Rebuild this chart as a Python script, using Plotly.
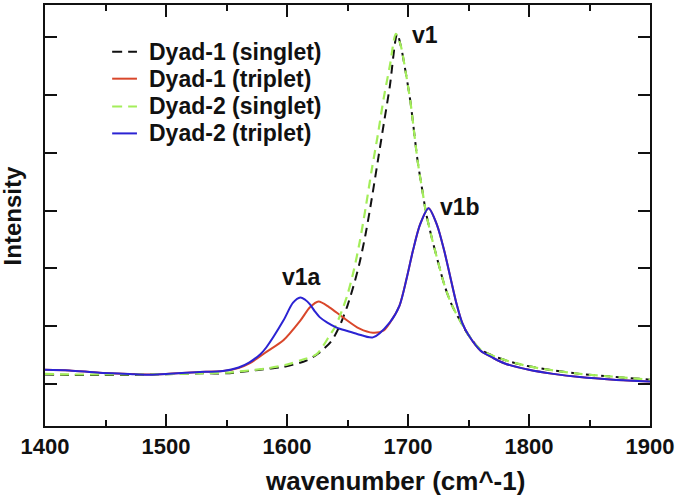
import plotly.graph_objects as go

# ---- data ----
wn_d1s = [1400,1420,1445,1470,1490,1510,1530,1550,1569,1585,1597,1616,1627,1636,1640,1645,1650,1655,1660,1665,1670,1675,1680,1685,1691,1694,1698,1702,1708,1712,1715,1720,1725,1730,1736,1743,1750,1760,1780,1800,1820,1842,1870,1900]
int_d1s = [0.17,0.16,0.16,0.16,0.17,0.18,0.19,0.19,0.23,0.27,0.30,0.41,0.55,0.73,0.86,1.08,1.36,1.70,2.1,2.6,3.2,3.85,4.5,5.15,6.05,5.85,5.4,4.88,3.85,3.33,2.95,2.5,2.1,1.72,1.38,1.1,0.85,0.6,0.42,0.31,0.24,0.18,0.13,0.08]

wn_d1t = [1400,1420,1445,1470,1484,1500,1525,1547,1560,1569,1583,1597,1611,1619,1626,1635,1646,1660,1671,1680,1688,1693,1699,1704,1710,1717,1724,1730,1735,1740,1745,1750,1760,1770,1780,1800,1820,1842,1870,1900]
int_d1t = [0.25,0.24,0.20,0.18,0.17,0.18,0.21,0.23,0.28,0.36,0.56,0.76,1.10,1.33,1.43,1.33,1.16,0.96,0.89,0.93,1.16,1.36,1.84,2.30,2.76,3.04,2.75,2.3,1.85,1.4,1.05,0.85,0.58,0.46,0.36,0.25,0.18,0.125,0.08,0.05]

wn_d2s = [1400,1420,1445,1470,1490,1510,1530,1550,1569,1585,1600,1612,1624.5,1636,1640,1645,1650,1655,1660,1665,1670,1675,1680,1685,1690,1694,1698,1702,1708,1712,1715,1720,1725,1730,1736,1743,1750,1760,1780,1800,1820,1842,1870,1900]
int_d2s = [0.18,0.17,0.17,0.17,0.17,0.18,0.19,0.20,0.24,0.28,0.34,0.42,0.52,0.87,1.0,1.25,1.55,1.95,2.45,3.05,3.7,4.3,4.95,5.5,6.05,5.85,5.4,4.88,3.85,3.33,2.95,2.5,2.1,1.72,1.38,1.1,0.85,0.6,0.42,0.31,0.24,0.18,0.13,0.08]

wn_d2t = [1400,1420,1445,1470,1484,1500,1525,1547,1560,1569,1578,1583,1597,1605,1611,1615,1619,1623,1627,1633,1641,1650,1658,1671,1685,1693,1699,1704,1710,1717,1724,1730,1735,1740,1745,1750,1760,1770,1780,1800,1820,1842,1870,1900]
int_d2t = [0.25,0.24,0.20,0.18,0.165,0.18,0.21,0.23,0.29,0.38,0.52,0.64,1.10,1.41,1.50,1.46,1.38,1.26,1.16,1.07,0.98,0.92,0.87,0.81,1.07,1.36,1.84,2.30,2.76,3.04,2.75,2.3,1.85,1.4,1.05,0.85,0.58,0.46,0.36,0.25,0.18,0.125,0.08,0.05]

series_names = ["Dyad-1 (singlet)", "Dyad-1 (triplet)", "Dyad-2 (singlet)", "Dyad-2 (triplet)"]

peak_labels = ["v1", "v1a", "v1b"]
peak_x = [1714, 1611.6, 1743]
peak_y = [6.03, 1.86, 3.06]

x_ticks = [1400, 1500, 1600, 1700, 1800, 1900]

FONT = "Liberation Sans, Arial, Helvetica, sans-serif"
INK = "#111111"

fig = go.Figure()
styles = [
    dict(color="#111111", width=2, dash="9px,6px"),
    dict(color="#D9472B", width=2),
    dict(color="#A4EE5A", width=2.2, dash="9px,6px"),
    dict(color="#2B23D3", width=2),
]
data = [(wn_d1s, int_d1s), (wn_d1t, int_d1t), (wn_d2s, int_d2s), (wn_d2t, int_d2t)]
for name, (xs, ys), st in zip(series_names, data, styles):
    fig.add_trace(go.Scatter(x=xs, y=ys, mode="lines", name=name, showlegend=False,
                             line=dict(shape="spline", smoothing=0.8, **st)))

# manual legend (line sample + label) placed in the upper-left of the plot area
legend_rows_y = [0.889, 0.825, 0.759, 0.695]
for name, st, ly in zip(series_names, styles, legend_rows_y):
    dash = "10px,6px" if "dash" in st else "solid"
    fig.add_shape(type="line", xref="paper", yref="paper", x0=0.111, x1=0.152, y0=ly, y1=ly,
                  line=dict(color=st["color"], width=2, dash=dash))
    fig.add_annotation(xref="paper", yref="paper", x=0.168, y=ly, text=name, showarrow=False,
                       xanchor="left", yanchor="middle",
                       font=dict(family=FONT, size=23, color=INK, weight="bold"))

for t, xx, yy in zip(peak_labels, peak_x, peak_y):
    fig.add_annotation(x=xx, y=yy, text=t, showarrow=False,
                       font=dict(family=FONT, size=23, color=INK, weight="bold"))

fig.add_annotation(xref="paper", yref="paper", x=0.578, y=-0.13, text="wavenumber (cm^-1)",
                   showarrow=False, xanchor="center", yanchor="middle",
                   font=dict(family=FONT, size=26, color=INK, weight="bold"))
fig.add_annotation(xref="paper", yref="paper", x=-0.053, y=0.5, text="Intensity", textangle=-90,
                   showarrow=False, xanchor="center", yanchor="middle",
                   font=dict(family=FONT, size=24, color=INK, weight="bold"))

fig.update_layout(
    width=677, height=496,
    margin=dict(l=45, r=27, t=3, b=70),
    plot_bgcolor="white", paper_bgcolor="white",
    font=dict(family=FONT, size=22, color=INK, weight="bold"),
    showlegend=False,
    xaxis=dict(range=[1400, 1900], tickvals=x_ticks, ticks="inside", ticklen=12, tickwidth=2,
               tickcolor=INK, showline=True, linecolor=INK, linewidth=2, mirror="ticks",
               showgrid=False, zeroline=False,
               minor=dict(dtick=50, tick0=1400, ticks="inside", ticklen=6, tickwidth=2, tickcolor=INK, showgrid=False),
               tickfont=dict(family=FONT, size=22, color=INK, weight="bold")),
    yaxis=dict(range=[-0.72, 6.55], tick0=0, dtick=1, ticks="inside", ticklen=12, tickwidth=2,
               tickcolor=INK, showline=True, linecolor=INK, linewidth=2, mirror="ticks",
               showgrid=False, zeroline=False, showticklabels=False),
)

fig.write_html("out.html", config={"displayModeBar": False},
               post_script="document.body.style.margin='0';document.body.style.padding='0';")
